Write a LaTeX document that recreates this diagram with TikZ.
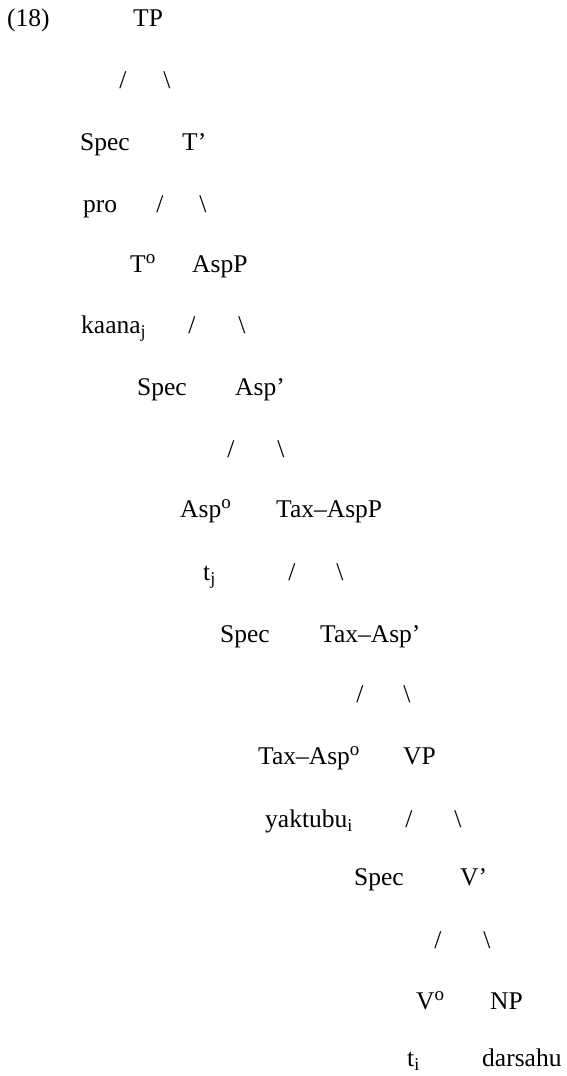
\documentclass[tikz,border=0pt]{standalone}
\usepackage{fontspec}
\setmainfont{Liberation Serif}
% head marker (raised small o) and trace/coindex subscript
\newcommand\hd[1]{#1\raisebox{0.33em}{\fontsize{19}{19}\selectfont o}}
\newcommand\ix[1]{\raisebox{-0.16em}{\fontsize{18}{18}\selectfont #1}}
\begin{document}
\begin{tikzpicture}[x=1pt,y=-1pt,
  lbl/.style={anchor=base west, inner sep=0pt, font=\fontsize{25.5}{30}\selectfont},
  br/.style={anchor=base, inner sep=0pt, font=\fontsize{25.5}{30}\selectfont}]
\useasboundingbox (0,0) rectangle (566,1076);
% example number and root
\node[lbl] (ex)   at (7,27)   {(18)};
\node[lbl] (tp)   at (133,27) {TP};
\node[br]  (tpl)  at (123,88) {/};
\node[br]  (tpr)  at (167,88) {\textbackslash};
% TP level
\node[lbl] (spt)  at (80,150)  {Spec};
\node[lbl] (tb)   at (182,150) {T’};
\node[lbl] (pro)  at (83,212)  {pro};
\node[br]  (tbl)  at (160,212) {/};
\node[br]  (tbr)  at (203,212) {\textbackslash};
\node[lbl] (t0)   at (130,272) {\hd{T}};
\node[lbl] (asp)  at (192,272) {AspP};
% AspP level
\node[lbl] (kaa)  at (81,333)  {kaana\ix{j}};
\node[br]  (aspl) at (192,333) {/};
\node[br]  (aspr) at (242,333) {\textbackslash};
\node[lbl] (spa)  at (137,395) {Spec};
\node[lbl] (aspb) at (235,395) {Asp’};
\node[br]  (abl)  at (231,457) {/};
\node[br]  (abr)  at (281,457) {\textbackslash};
\node[lbl] (asp0) at (180,517) {\hd{Asp}};
\node[lbl] (tax)  at (276,517) {Tax–AspP};
% Tax-AspP level
\node[lbl] (tj)   at (203,580) {t\ix{j}};
\node[br]  (taxl) at (292,580) {/};
\node[br]  (taxr) at (340,580) {\textbackslash};
\node[lbl] (spx)  at (220,642) {Spec};
\node[lbl] (taxb) at (320,642) {Tax–Asp’};
\node[br]  (txbl) at (360,702) {/};
\node[br]  (txbr) at (407,702) {\textbackslash};
\node[lbl] (tax0) at (258,764) {\hd{Tax–Asp}};
\node[lbl] (vp)   at (403,764) {VP};
% VP level
\node[lbl] (yak)  at (265,827) {yaktubu\ix{i}};
\node[br]  (vpl)  at (409,827) {/};
\node[br]  (vpr)  at (458,827) {\textbackslash};
\node[lbl] (spv)  at (354,885) {Spec};
\node[lbl] (vb)   at (460,885) {V’};
\node[br]  (vbl)  at (438,948) {/};
\node[br]  (vbr)  at (487,948) {\textbackslash};
\node[lbl] (v0)   at (416,1009) {\hd{V}};
\node[lbl] (np)   at (490,1009) {NP};
\node[lbl] (ti)   at (407,1066) {t\ix{i}};
\node[lbl] (dar)  at (482,1066) {darsahu};
\end{tikzpicture}
\end{document}
